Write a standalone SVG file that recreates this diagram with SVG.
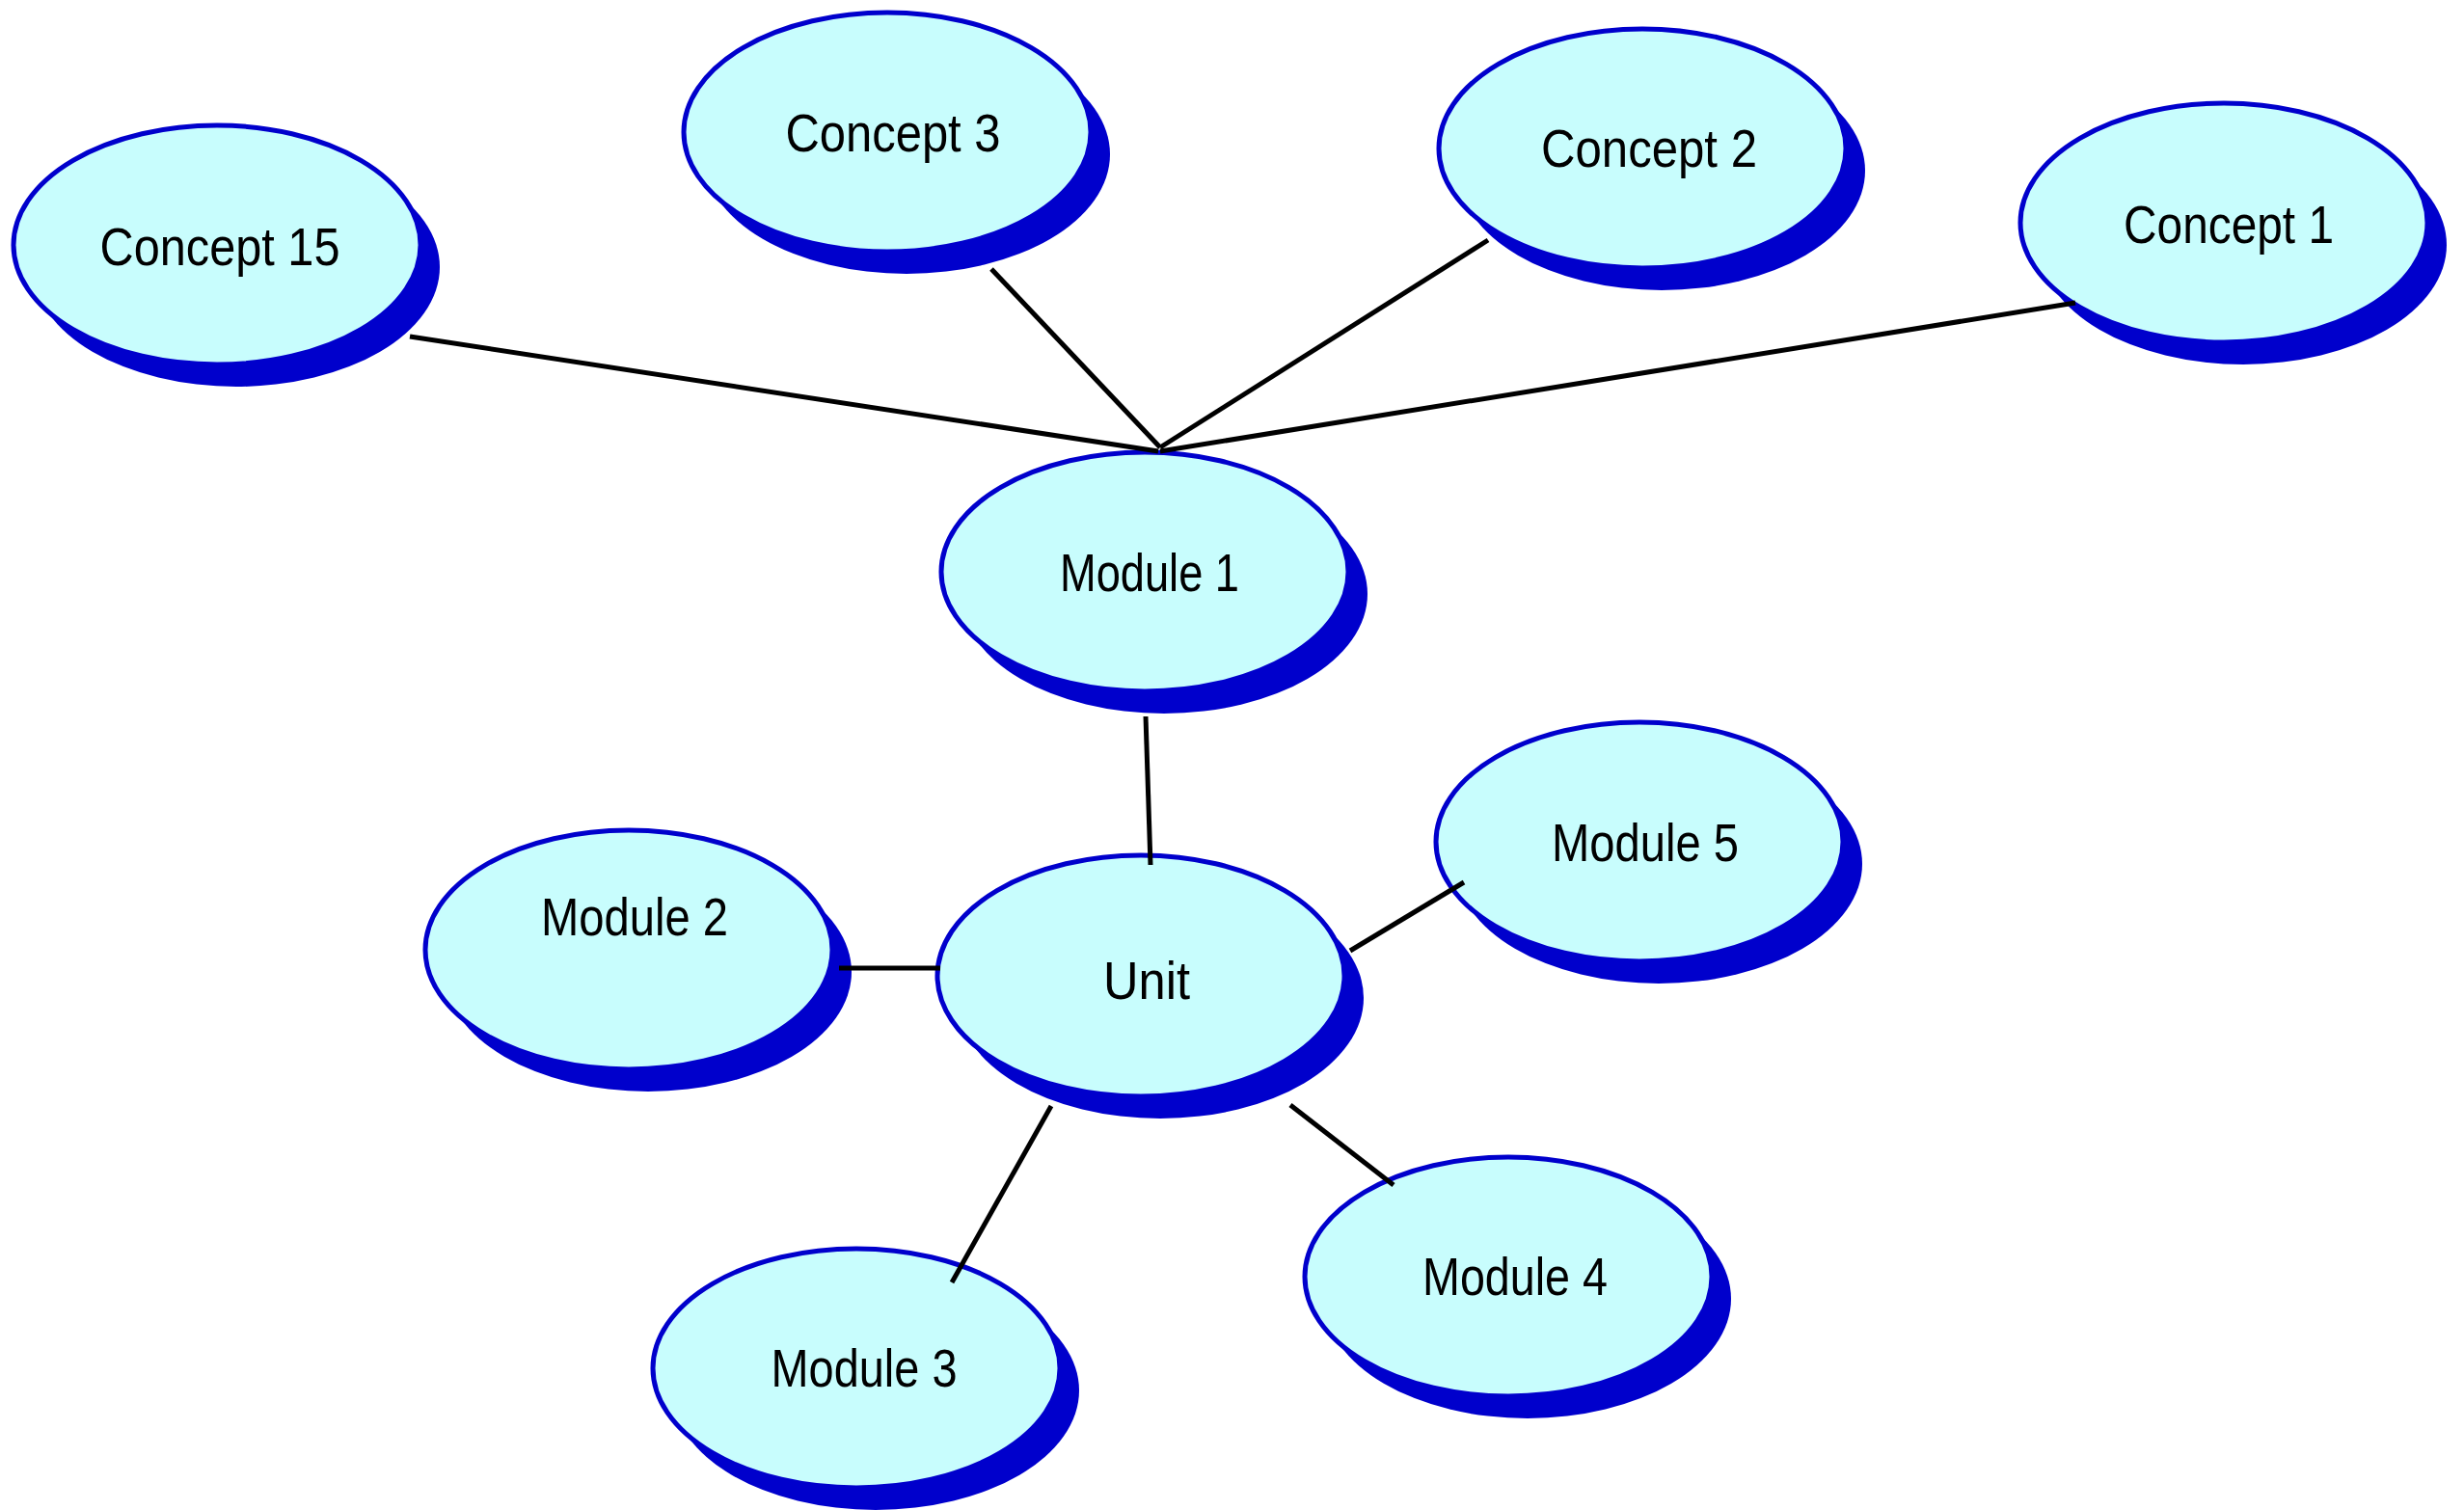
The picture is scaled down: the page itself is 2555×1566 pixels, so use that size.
<svg xmlns="http://www.w3.org/2000/svg" width="2555" height="1566" viewBox="0 0 2555 1566">
<style>
.shadow{fill:#0000CC;stroke:none}
.body{fill:#C8FDFD;stroke:#0000CC;stroke-width:5}
.label{font-family:"Liberation Sans",Arial,sans-serif;font-size:55px;fill:#000;text-anchor:middle}
.conn line{stroke:#000;stroke-width:5;stroke-linecap:butt}
</style>
<rect width="2555" height="1566" fill="#fff"/>
<g id="concept15">
<ellipse class="shadow" cx="245" cy="277" rx="211" ry="124"/>
<ellipse class="body" cx="225" cy="254" rx="211" ry="124"/>
<text class="label" x="228" y="275" textLength="249" lengthAdjust="spacingAndGlyphs">Concept 15</text>
</g>
<g id="concept3">
<ellipse class="shadow" cx="940" cy="160" rx="211" ry="124"/>
<ellipse class="body" cx="920" cy="137" rx="211" ry="124"/>
<text class="label" x="926" y="157" textLength="223" lengthAdjust="spacingAndGlyphs">Concept 3</text>
</g>
<g id="concept2">
<ellipse class="shadow" cx="1723" cy="177" rx="211" ry="124"/>
<ellipse class="body" cx="1703" cy="154" rx="211" ry="124"/>
<text class="label" x="1710" y="173" textLength="224" lengthAdjust="spacingAndGlyphs">Concept 2</text>
</g>
<g id="concept1">
<ellipse class="shadow" cx="2326" cy="254" rx="211" ry="124"/>
<ellipse class="body" cx="2306" cy="231" rx="211" ry="124"/>
<text class="label" x="2311" y="252" textLength="218" lengthAdjust="spacingAndGlyphs">Concept 1</text>
</g>
<g id="module1">
<ellipse class="shadow" cx="1207" cy="616" rx="211" ry="124"/>
<ellipse class="body" cx="1187" cy="593" rx="211" ry="124"/>
<text class="label" x="1192" y="613" textLength="186" lengthAdjust="spacingAndGlyphs">Module 1</text>
</g>
<g id="module2">
<ellipse class="shadow" cx="672" cy="1008" rx="211" ry="124"/>
<ellipse class="body" cx="652" cy="985" rx="211" ry="124"/>
<text class="label" x="658" y="970" textLength="194" lengthAdjust="spacingAndGlyphs">Module 2</text>
</g>
<g id="unit">
<ellipse class="shadow" cx="1203" cy="1035" rx="211" ry="125"/>
<ellipse class="body" cx="1183" cy="1012" rx="211" ry="125"/>
<text class="label" x="1189" y="1036" textLength="90" lengthAdjust="spacingAndGlyphs">Unit</text>
</g>
<g id="module5">
<ellipse class="shadow" cx="1720" cy="896" rx="211" ry="124"/>
<ellipse class="body" cx="1700" cy="873" rx="211" ry="124"/>
<text class="label" x="1706" y="893" textLength="194" lengthAdjust="spacingAndGlyphs">Module 5</text>
</g>
<g id="module4">
<ellipse class="shadow" cx="1584" cy="1347" rx="211" ry="124"/>
<ellipse class="body" cx="1564" cy="1324" rx="211" ry="124"/>
<text class="label" x="1571" y="1343" textLength="192" lengthAdjust="spacingAndGlyphs">Module 4</text>
</g>
<g id="module3">
<ellipse class="shadow" cx="908" cy="1442" rx="211" ry="124"/>
<ellipse class="body" cx="888" cy="1419" rx="211" ry="124"/>
<text class="label" x="896" y="1438" textLength="193" lengthAdjust="spacingAndGlyphs">Module 3</text>
</g>
<g id="connectors" class="conn">
<line x1="425" y1="349" x2="1201" y2="468"/>
<line x1="1028" y1="279" x2="1203" y2="464"/>
<line x1="1543" y1="249" x2="1203" y2="464"/>
<line x1="2152" y1="314" x2="1203" y2="468"/>
<line x1="1188" y1="743" x2="1193" y2="897"/>
<line x1="870" y1="1004" x2="975" y2="1004"/>
<line x1="1518" y1="915" x2="1400" y2="986"/>
<line x1="1090" y1="1147" x2="987" y2="1330"/>
<line x1="1338" y1="1146" x2="1445" y2="1229"/>
</g>
</svg>
